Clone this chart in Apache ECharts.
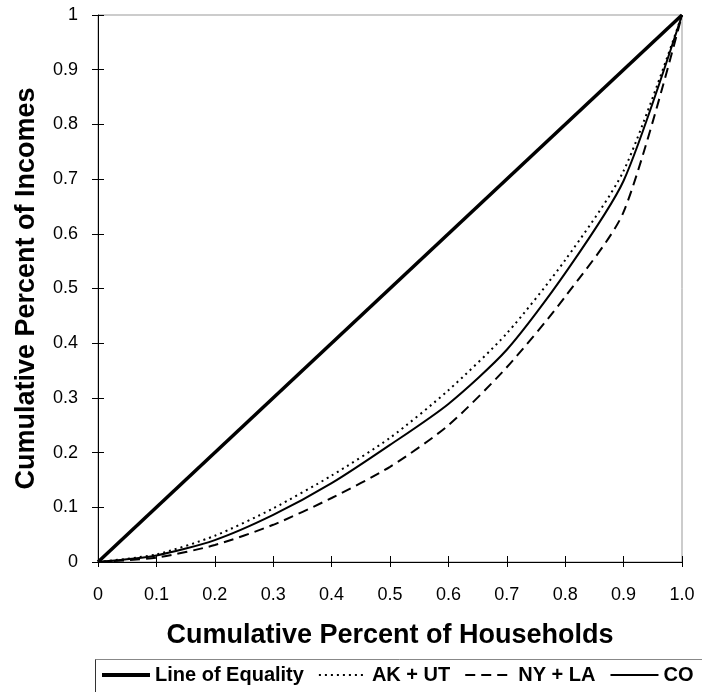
<!DOCTYPE html>
<html>
<head>
<meta charset="utf-8">
<script src="https://cdn.jsdelivr.net/npm/echarts@6/dist/echarts.min.js"></script>
<style>
html,body{margin:0;padding:0;background:#fff;}
#c{width:702px;height:692px;}
</style>
</head>
<body>
<div id="c"></div>
<script>
var households = [0, 0.1, 0.2, 0.3, 0.4, 0.5, 0.6, 0.7, 0.8, 0.9, 1.0];
var equality = [0, 1];
var equalityX = [0, 1];
var akut = [0, 0.014, 0.048, 0.098, 0.158, 0.227, 0.314, 0.418, 0.552, 0.715, 1];
var nyla = [0, 0.008, 0.031, 0.068, 0.117, 0.174, 0.250, 0.356, 0.485, 0.640, 1];
var co   = [0, 0.012, 0.040, 0.086, 0.144, 0.214, 0.289, 0.388, 0.528, 0.697, 1];
var seriesNames = ['Line of Equality', 'AK + UT', 'NY + LA', 'CO'];
var xTickLabels = ['0','0.1','0.2','0.3','0.4','0.5','0.6','0.7','0.8','0.9','1.0'];
var yTickLabels = ['0','0.1','0.2','0.3','0.4','0.5','0.6','0.7','0.8','0.9','1'];

function pairs(xs, ys){ return xs.map(function(x,i){ return [x, ys[i]]; }); }

var FONT = '"Liberation Sans", Arial, sans-serif';
var chart = echarts.init(document.getElementById('c'), null, {renderer:'canvas'});

var baseAxis = {
  type: 'value', min: 0, max: 1, interval: 0.1,
  splitLine: {show: false}
};

var legendWidths = [4, 2, 2, 2];
var legendTypes = ['solid', [2, 4], [10, 6], 'solid'];

chart.setOption({
  animation: false,
  backgroundColor: '#fff',
  grid: {left: 98, right: 20, top: 15, bottom: 130, show: true, borderColor: '#999', borderWidth: 1},
  xAxis: [
    Object.assign({}, baseAxis, {
      position: 'bottom',
      axisLine: {show: true, lineStyle: {color: '#000', width: 1}},
      axisTick: {show: true, length: 5, lineStyle: {color: '#000'}},
      axisLabel: {margin: 24, fontSize: 18, color: '#000', fontFamily: FONT,
        formatter: function(v){ return xTickLabels[Math.round(v*10)]; }},
      name: 'Cumulative Percent of Households',
      nameLocation: 'middle', nameGap: 60,
      nameTextStyle: {fontSize: 27, fontWeight: 'bold', color: '#000', fontFamily: FONT}
    }),
    Object.assign({}, baseAxis, {
      position: 'bottom',
      axisLine: {show: false},
      axisTick: {show: true, inside: true, length: 6, lineStyle: {color: '#000'}},
      axisLabel: {show: false}
    })
  ],
  yAxis: [
    Object.assign({}, baseAxis, {
      position: 'left',
      axisLine: {show: true, lineStyle: {color: '#000', width: 1}},
      axisTick: {show: true, length: 6, lineStyle: {color: '#000'}},
      axisLabel: {margin: 20, fontSize: 18, color: '#000', fontFamily: FONT,
        formatter: function(v){ return yTickLabels[Math.round(v*10)]; }},
      name: 'Cumulative Percent of Incomes',
      nameLocation: 'middle', nameGap: 58,
      nameTextStyle: {fontSize: 27, fontWeight: 'bold', color: '#000', fontFamily: FONT}
    }),
    Object.assign({}, baseAxis, {
      position: 'left',
      axisLine: {show: false},
      axisTick: {show: true, inside: true, length: 6, lineStyle: {color: '#000'}},
      axisLabel: {show: false}
    })
  ],
  legend: {
    left: 100, top: 665, width: 602, padding: 0,
    itemWidth: 48, itemHeight: 14, itemGap: 14,
    itemStyle: {opacity: 0},
    textStyle: {fontSize: 20, fontWeight: 'bold', color: '#000', fontFamily: FONT},
    data: seriesNames.map(function(n, i){
      return {name: n, lineStyle: {width: legendWidths[i], type: legendTypes[i], color: '#000'}};
    })
  },
  graphic: [
    {type: 'rect', shape: {x: 95.5, y: 659.5, width: 700, height: 100}, style: {fill: 'none', stroke: '#888', lineWidth: 1}, silent: true, z: -1},
    {type: 'line', shape: {x1: 95.5, y1: 659.5, x2: 95.5, y2: 692}, style: {stroke: '#333', lineWidth: 1}, silent: true}
  ],
  series: [
    {name: seriesNames[0], type: 'line', data: pairs(equalityX, equality), symbol: 'none',
     lineStyle: {color: '#000', width: 3.5, type: 'solid'}, itemStyle: {color: '#000'}, z: 5},
    {name: seriesNames[1], type: 'line', data: pairs(households, akut), symbol: 'none', smooth: 0.25,
     lineStyle: {color: '#000', width: 2, type: [2, 4]}, itemStyle: {color: '#000'}},
    {name: seriesNames[2], type: 'line', data: pairs(households, nyla), symbol: 'none', smooth: 0.25,
     lineStyle: {color: '#000', width: 2, type: [10, 6]}, itemStyle: {color: '#000'}},
    {name: seriesNames[3], type: 'line', data: pairs(households, co), symbol: 'none', smooth: 0.25,
     lineStyle: {color: '#000', width: 2, type: 'solid'}, itemStyle: {color: '#000'}}
  ]
});
</script>
</body>
</html>
